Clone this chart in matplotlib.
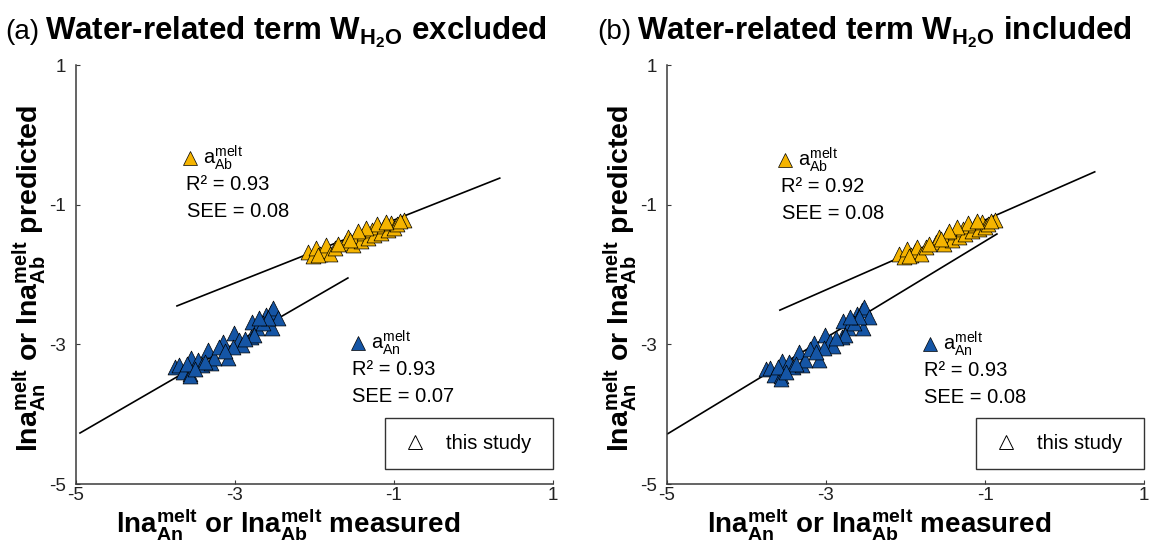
import matplotlib
matplotlib.use('Agg')
import matplotlib.pyplot as plt
from matplotlib.lines import Line2D

plt.rcParams['font.family'] = ['Liberation Sans', 'DejaVu Sans']
plt.rcParams['mathtext.fontset'] = 'custom'
plt.rcParams['mathtext.rm'] = 'Liberation Sans'
plt.rcParams['mathtext.it'] = 'Liberation Sans:italic'
plt.rcParams['mathtext.bf'] = 'Liberation Sans:bold'
plt.rcParams['axes.unicode_minus'] = False

# measured ln a (same in both panels)
ab_measured = [-2.08, -2.02, -1.98, -1.93, -1.88, -1.85, -1.80, -1.74, -1.62, -1.58,
               -1.52, -1.48, -1.42, -1.38, -1.33, -1.28, -1.25, -1.20, -1.16, -1.12,
               -1.08, -1.04, -1.00, -0.96, -0.88, -1.22, -1.35, -1.45, -1.55, -1.10,
               -0.93, -1.70, -1.95]
an_measured = [-3.75, -3.71, -3.65, -3.57, -3.55, -3.47, -3.42, -3.34, -3.30, -3.15,
               -3.09, -3.01, -2.95, -2.91, -2.80, -2.78, -2.72, -2.61, -2.55, -2.53,
               -2.52, -2.46, -2.76, -3.26, -3.38, -3.20, -3.03, -3.56, -3.60, -3.50,
               -2.65, -2.58, -2.88, -3.12, -2.70]

# predicted ln a, W_H2O excluded
ab_pred_a = [-1.68, -1.74, -1.62, -1.71, -1.66, -1.58, -1.70, -1.62, -1.55, -1.47,
             -1.58, -1.45, -1.52, -1.40, -1.48, -1.36, -1.44, -1.32, -1.40, -1.30,
             -1.36, -1.26, -1.33, -1.28, -1.22, -1.27, -1.33, -1.38, -1.50, -1.25,
             -1.24, -1.56, -1.72]
an_pred_a = [-3.32, -3.30, -3.40, -3.42, -3.20, -3.22, -3.30, -3.08, -3.27, -2.96,
             -3.20, -2.84, -2.94, -3.01, -2.89, -2.68, -2.77, -2.58, -2.53, -2.77,
             -2.48, -2.63, -2.86, -3.20, -3.25, -3.04, -3.04, -3.46, -3.28, -3.35,
             -2.70, -2.62, -2.92, -3.10, -2.62]

# predicted ln a, W_H2O included
ab_pred_b = [-1.70, -1.75, -1.63, -1.72, -1.67, -1.60, -1.70, -1.61, -1.54, -1.46,
             -1.57, -1.44, -1.50, -1.39, -1.46, -1.35, -1.42, -1.31, -1.38, -1.29,
             -1.35, -1.25, -1.32, -1.27, -1.22, -1.26, -1.32, -1.37, -1.49, -1.24,
             -1.23, -1.57, -1.74]
an_pred_b = [-3.36, -3.34, -3.44, -3.46, -3.24, -3.25, -3.33, -3.11, -3.30, -2.98,
             -3.23, -2.86, -2.95, -3.02, -2.89, -2.67, -2.76, -2.57, -2.51, -2.76,
             -2.46, -2.61, -2.86, -3.23, -3.28, -3.06, -3.05, -3.50, -3.32, -3.39,
             -2.69, -2.61, -2.91, -3.11, -2.61]

# regression lines: ([x0, x1], [y0, y1])
ab_fit_a = ([-3.73, 0.33], [-2.45, -0.62])
an_fit_a = ([-4.95, -1.58], [-4.27, -2.05])
ab_fit_b = ([-3.58, 0.38], [-2.51, -0.53])
an_fit_b = ([-4.99, -0.85], [-4.28, -1.42])

stats_a = {'ab': ('0.93', '0.08'), 'an': ('0.93', '0.07')}
stats_b = {'ab': ('0.92', '0.08'), 'an': ('0.93', '0.08')}

ticks = [-5, -3, -1, 1]
orange = '#F5B400'
blue = '#1555A5'
axis_grey = '#3a3a3a'
note_size = 14.5

fig = plt.figure(figsize=(11.49, 5.44), dpi=100)
ax_a = fig.add_axes([76 / 1149, 60 / 544, 477 / 1149, 419 / 544])
ax_b = fig.add_axes([667 / 1149, 60 / 544, 477 / 1149, 419 / 544])

xlabel = (r'$\mathbf{lna}^{\mathbf{melt}}_{\mathbf{An}}$ or '
          r'$\mathbf{lna}^{\mathbf{melt}}_{\mathbf{Ab}}$ measured')
ylabel = (r'$\mathbf{lna}^{\mathbf{melt}}_{\mathbf{An}}$ or '
          r'$\mathbf{lna}^{\mathbf{melt}}_{\mathbf{Ab}}$ predicted')


def draw_panel(ax, ab_pred, an_pred, ab_fit, an_fit, stats, pos):
    ax.plot(*ab_fit, color='black', lw=1.2, zorder=2)
    ax.plot(*an_fit, color='black', lw=1.2, zorder=2)
    ax.scatter(ab_measured, ab_pred, marker='^', s=115, c=orange,
               edgecolors='black', linewidths=0.5, zorder=3)
    ax.scatter(an_measured, an_pred, marker='^', s=115, c=blue,
               edgecolors='black', linewidths=0.5, zorder=3)

    ax.set_xlim(-5, 1)
    ax.set_ylim(-5, 1)
    ax.set_xticks(ticks)
    ax.set_yticks(ticks)
    for side in ['top', 'right']:
        ax.spines[side].set_visible(False)
    for side in ['left', 'bottom']:
        ax.spines[side].set_color(axis_grey)
        ax.spines[side].set_linewidth(1.1)
    ax.tick_params(direction='in', length=3, width=0.8, colors=axis_grey,
                   labelsize=13.5, labelcolor='#222222')
    ax.tick_params(axis='x', pad=2)
    ax.tick_params(axis='y', pad=7)

    ax.set_xlabel(xlabel, fontsize=20, fontweight='bold')
    ax.set_ylabel(ylabel, fontsize=20.5, fontweight='bold')
    ax.xaxis.set_label_coords(0.445, -0.052)
    ax.yaxis.set_label_coords(-0.058, 0.49)

    # stats annotations with colour keys
    (ox, oy), (bx, by) = pos
    ax.plot([ox], [oy], marker='^', ms=10, color=orange, mec='black', mew=0.5,
            transform=ax.transAxes, clip_on=False)
    ax.text(ox + 0.028, oy, r'a$^{\mathrm{melt}}_{\mathrm{Ab}}$', fontsize=note_size,
            transform=ax.transAxes, va='center')
    ax.text(ox - 0.008, oy - 0.064, 'R² = ' + stats['ab'][0], fontsize=note_size,
            transform=ax.transAxes, va='center')
    ax.text(ox - 0.006, oy - 0.128, 'SEE = ' + stats['ab'][1], fontsize=note_size,
            transform=ax.transAxes, va='center')

    ax.plot([bx], [by], marker='^', ms=10, color=blue, mec='black', mew=0.5,
            transform=ax.transAxes, clip_on=False)
    ax.text(bx + 0.028, by, r'a$^{\mathrm{melt}}_{\mathrm{An}}$', fontsize=note_size,
            transform=ax.transAxes, va='center')
    ax.text(bx - 0.012, by - 0.064, 'R² = ' + stats['an'][0], fontsize=note_size,
            transform=ax.transAxes, va='center')
    ax.text(bx - 0.012, by - 0.128, 'SEE = ' + stats['an'][1], fontsize=note_size,
            transform=ax.transAxes, va='center')

    handle = Line2D([], [], marker='^', ls='none', ms=10, mfc='white',
                    mec='black', mew=0.7)
    leg = ax.legend([handle], ['this study'], loc='center',
                    bbox_to_anchor=(0.648, 0.04, 0.352, 0.113), mode='expand',
                    borderaxespad=0, fontsize=note_size, frameon=True,
                    fancybox=False, borderpad=0.8, handletextpad=0.8,
                    handlelength=1.4)
    leg.get_frame().set_edgecolor('black')
    leg.get_frame().set_linewidth(1.0)


draw_panel(ax_a, ab_pred_a, an_pred_a, ab_fit_a, an_fit_a, stats_a,
           ((0.239, 0.778), (0.591, 0.337)))
draw_panel(ax_b, ab_pred_b, an_pred_b, ab_fit_b, an_fit_b, stats_b,
           ((0.247, 0.773), (0.551, 0.334)))

fig.text(5 / 1149, 1 - 39 / 544, '(a)', fontsize=20, va='baseline')
fig.text(45 / 1149, 1 - 39 / 544,
         r'Water-related term $\mathbf{W}_{\mathbf{H_2O}}$ excluded',
         fontsize=22.5, fontweight='bold', va='baseline')
fig.text(597 / 1149, 1 - 39 / 544, '(b)', fontsize=20, va='baseline')
fig.text(637 / 1149, 1 - 39 / 544,
         r'Water-related term $\mathbf{W}_{\mathbf{H_2O}}$ included',
         fontsize=22.5, fontweight='bold', va='baseline')

fig.savefig('out.png', dpi=100)
